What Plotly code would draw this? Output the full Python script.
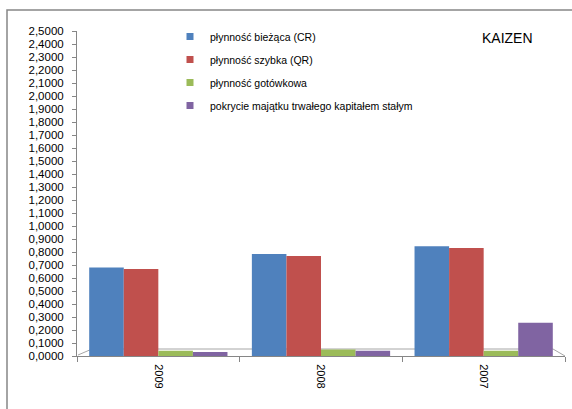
import plotly.graph_objects as go

years = ["2009", "2008", "2007"]
series_names = [
    "płynność bieżąca (CR)",
    "płynność szybka (QR)",
    "płynność gotówkowa",
    "pokrycie majątku trwałego kapitałem stałym",
]
cr = [0.68, 0.785, 0.845]
qr = [0.67, 0.77, 0.83]
cash = [0.04, 0.05, 0.04]
coverage = [0.03, 0.04, 0.255]
colors = ["#4F81BD", "#C0504D", "#9BBB59", "#8064A2"]
title_text = "KAIZEN"

W, H = 572, 409
ml, mr, mt, mb = 77, 7, 31, 53
pw, ph = W - ml - mr, H - mt - mb

fig = go.Figure()
for i, (name, vals) in enumerate(zip(series_names, [cr, qr, cash, coverage])):
    fig.add_trace(go.Bar(
        x=years, y=vals, name=name, marker_color=colors[i],
        marker_line_width=0, showlegend=False,
    ))
# legend entries (small square symbols like the original)
for i, name in enumerate(series_names):
    fig.add_trace(go.Scatter(
        x=[None], y=[None], mode="markers", name=name,
        marker=dict(symbol="square", size=7, color=colors[i]),
        legendgroup=f"g{i}", showlegend=True,
    ))

def px_x(p):
    return (p - ml) / pw

def px_y(p):
    return (H - mb - p) / ph

fig.update_layout(
    width=W, height=H,
    margin=dict(l=ml, r=mr, t=mt, b=mb, autoexpand=False),
    paper_bgcolor="white", plot_bgcolor="white",
    barmode="group", bargap=0.15, bargroupgap=0,
    separators=", ",
    font=dict(family="Liberation Sans", size=11, color="#000000"),
    showlegend=True,
    legend=dict(
        x=px_x(170), y=px_y(22), xanchor="left", yanchor="top",
        bgcolor="rgba(0,0,0,0)", font=dict(size=10.5, color="#000"),
        tracegroupgap=4, itemwidth=30, traceorder="grouped",
    ),
    xaxis=dict(
        showgrid=False, showline=True, linecolor="#868686", linewidth=1,
        ticks="outside", ticklen=5, tickcolor="#868686",
        tickangle=90, tickfont=dict(size=11, color="#000"),
        tickson="boundaries", automargin=False, ticklabelstandoff=5,
    ),
    yaxis=dict(
        range=[0, 2.5], dtick=0.1, tickformat=".4f",
        showgrid=False, showline=True, linecolor="#868686", linewidth=1,
        ticks="outside", ticklen=4, tickcolor="#868686",
        tickfont=dict(size=11.5, color="#000"), zeroline=False,
        automargin=False, ticklabelstandoff=6,
    ),
    annotations=[dict(
        text=title_text, xref="paper", yref="paper",
        x=px_x(507), y=px_y(38), xanchor="center", yanchor="middle",
        showarrow=False, font=dict(size=14, color="#000"),
    )],
    shapes=[
        dict(type="rect", xref="paper", yref="paper",
             x0=px_x(7), x1=px_x(600), y0=px_y(440), y1=px_y(10),
             line=dict(color="#868686", width=1.5), layer="below"),
        dict(type="line", xref="paper", yref="paper",
             x0=px_x(78), x1=px_x(92), y0=px_y(355), y1=px_y(349),
             line=dict(color="#A6A6A6", width=1), layer="below"),
        dict(type="line", xref="paper", yref="paper",
             x0=px_x(92), x1=px_x(553), y0=px_y(349), y1=px_y(349),
             line=dict(color="#A6A6A6", width=1), layer="below"),
        dict(type="line", xref="paper", yref="paper",
             x0=px_x(553), x1=px_x(565), y0=px_y(349), y1=px_y(356),
             line=dict(color="#A6A6A6", width=1), layer="below"),
    ],
)

fig.write_html("out.html", config={"displayModeBar": False})

# remove the browser's default page margin so the figure sits at (0, 0)
with open("out.html", "r", encoding="utf-8") as f:
    html = f.read()
html = html.replace("<head>", "<head><style>html,body{margin:0;padding:0;overflow:hidden;}</style>", 1)
with open("out.html", "w", encoding="utf-8") as f:
    f.write(html)
